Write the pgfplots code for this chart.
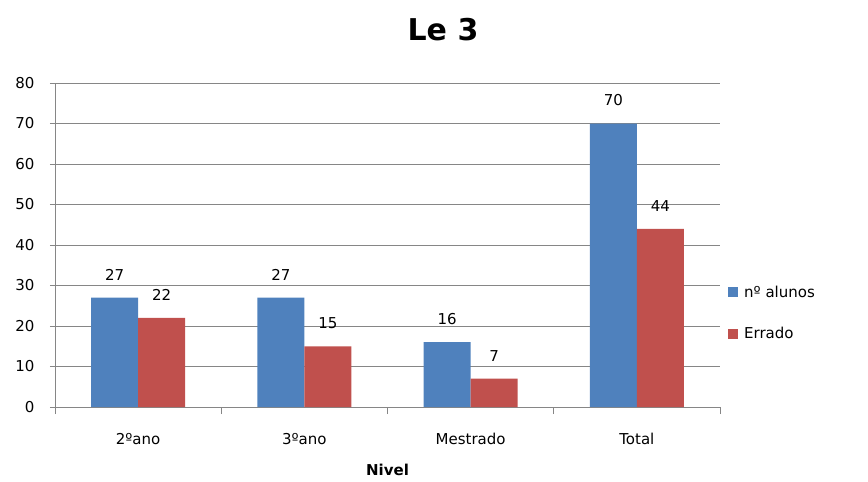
\documentclass[border=0pt]{standalone}
\usepackage{pgfplots}
\pgfplotsset{compat=1.18}
\usepackage{fontspec}
\setmainfont{DejaVu Sans}
\definecolor{xblue}{HTML}{4F81BD}
\definecolor{xred}{HTML}{C0504D}
\definecolor{gridgray}{RGB}{134,134,134}
\newcommand{\lbl}{\fontsize{15bp}{18bp}\selectfont}
\begin{document}
\begin{tikzpicture}
\begin{axis}[
  at={(0,0)}, anchor=south west,
  scale only axis, width=665bp, height=324bp,
  /pgf/number format/assume math mode=true,
  ybar=0pt, bar width=47bp,
  xmin=-0.5, xmax=3.5, ymin=0, ymax=80,
  xtick={0,1,2,3}, xticklabels={2ºano,3ºano,Mestrado,Total},
  minor xtick={-0.5,0.5,1.5,2.5,3.5},
  major x tick style={draw=none},
  ytick={0,10,...,80},
  axis x line*=bottom, axis y line*=left,
  axis line style={gridgray, line width=0.8bp},
  ymajorgrids, grid style={gridgray, line width=0.8bp},
  tick style={gridgray, line width=0.8bp},
  tick align=outside, major tick length=5bp, minor tick length=7bp,
  tick label style={font=\lbl, black},
  xticklabel style={yshift=-18bp},
  yticklabel style={xshift=-12bp},
  nodes near coords,
  every node near coord/.append style={font=\lbl, black, yshift=14bp},
  xlabel={Nivel},
  xlabel style={font=\fontsize{15bp}{18bp}\selectfont\bfseries, black, yshift=-12bp},
  legend style={at={(rel axis cs:1.012,0.29)}, anchor=west, draw=none, fill=none,
    inner sep=0pt, font=\lbl, row sep=25bp, nodes={inner xsep=6bp}},
  legend cell align=left,
  sqleg/.style={legend image code/.code={\fill[##1] (0bp,-5bp) rectangle (10bp,5bp);}},
]
\addplot[fill=xblue, draw=none, sqleg] coordinates {(0,27) (1,27) (2,16) (3,70)};
\addplot[fill=xred, draw=none, sqleg] coordinates {(0,22) (1,15) (2,7) (3,44)};
\legend{nº alunos, Errado}
\end{axis}
\node[font=\fontsize{30bp}{36bp}\selectfont\bfseries] at (388bp,377bp) {Le 3};
\path[use as bounding box] (-55bp,-75bp) rectangle (813bp,407bp);
\end{tikzpicture}
\end{document}
